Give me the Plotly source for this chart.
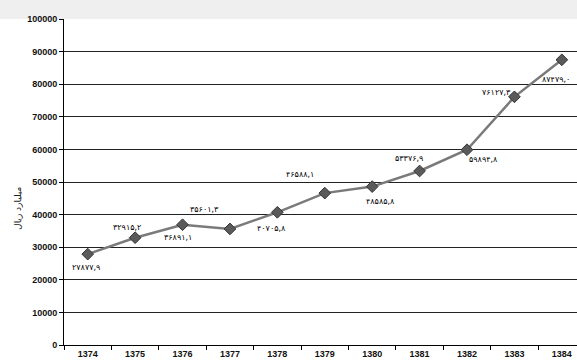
import plotly.graph_objects as go

years = ["1374", "1375", "1376", "1377", "1378", "1379", "1380", "1381", "1382", "1383", "1384"]
values = [27877.9, 32915.2, 36891.1, 35601.3, 40705.8, 46588.1, 48585.8, 53376.9, 59894.8, 76127.3, 87479.0]
y_ticks = [0, 10000, 20000, 30000, 40000, 50000, 60000, 70000, 80000, 90000, 100000]
y_title = "میلیارد ریال"

# label offsets (pixels) relative to each marker
label_dx = [-2, -8, -5, -25, -6, -25, 8, -11, 16, -18, -6]
label_dy = [13, -10, 13, -19, 16, -19, 15, -12, 10, -4, 20]

PERSIAN = str.maketrans("0123456789.", "۰۱۲۳۴۵۶۷۸۹,")


def fa(v):
    return f"{v:.1f}".translate(PERSIAN)


fig = go.Figure()
fig.add_trace(go.Scatter(
    x=years, y=values, mode="lines+markers",
    line=dict(color="#7a7a7a", width=2.5),
    marker=dict(symbol="diamond", size=9, color="#5a5a5a",
                line=dict(color="#333333", width=1)),
    hoverinfo="skip", showlegend=False,
))

for i, (v, dx, dy) in enumerate(zip(values, label_dx, label_dy)):
    fig.add_annotation(x=i, y=v, xref="x", yref="y", text=fa(v), showarrow=False,
                       xshift=dx, yshift=-dy,
                       font=dict(family="DejaVu Sans", size=8, color="#000000"))

fig.add_annotation(xref="paper", yref="paper", x=-0.09, y=0.42, text=y_title,
                   textangle=-90, showarrow=False, xanchor="center", yanchor="middle",
                   font=dict(family="DejaVu Sans", size=9, color="#222"))

fig.add_shape(type="rect", xref="paper", yref="paper", x0=-0.2, x1=1.1, y0=1.0, y1=1.1,
              fillcolor="#efefef", line=dict(width=0), layer="below")

fig.update_layout(
    width=577, height=361,
    margin=dict(l=64, r=0, t=19, b=16),
    paper_bgcolor="white", plot_bgcolor="white",
    font=dict(family="Liberation Sans, Arial", size=9, color="#000000"),
    xaxis=dict(
        type="category", range=[-0.5, 10.32],
        tickson="boundaries", ticks="outside", ticklen=4, tickcolor="#000",
        showline=True, linecolor="#000", linewidth=1,
        showgrid=False,
        tickfont=dict(family="Liberation Sans, Arial", size=9, color="#111", weight="bold"),
    ),
    yaxis=dict(
        range=[0, 100000], tickvals=y_ticks,
        ticktext=[str(t) for t in y_ticks],
        ticks="outside", ticklen=4, tickcolor="#000",
        showline=True, linecolor="#000", linewidth=1,
        showgrid=True, gridcolor="#222222", gridwidth=1,
        zeroline=False,
        tickfont=dict(family="Liberation Sans, Arial", size=9, color="#111", weight="bold"),
    ),
)

fig.write_html("out.html")
